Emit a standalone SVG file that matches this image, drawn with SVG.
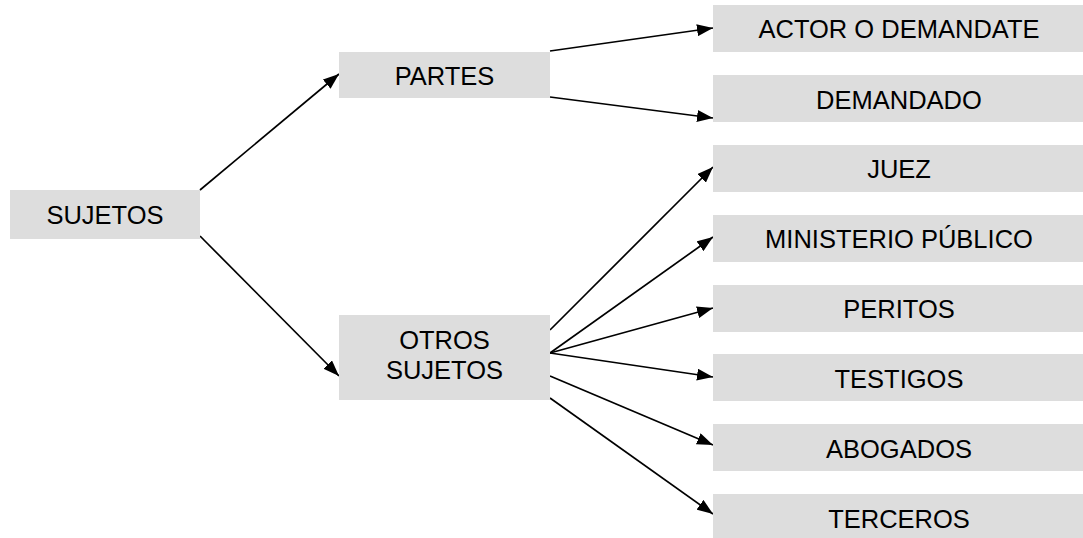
<svg xmlns="http://www.w3.org/2000/svg" width="1083" height="538" viewBox="0 0 1083 538">
  <style>
    .box { fill: #dddddd; stroke: none; }
    .lbl { font-family: "Liberation Sans", Arial, sans-serif; font-size: 25.5px; fill: #000000; text-anchor: middle; }
    .conn { stroke: #000000; stroke-width: 1.7; fill: none; marker-end: url(#arrow); }
  </style>
  <defs>
    <marker id="arrow" viewBox="0 0 16 12" refX="16" refY="6" markerWidth="16" markerHeight="12" markerUnits="userSpaceOnUse" orient="auto">
      <path d="M0,0 L16,6 L0,12 Z" fill="#000000"/>
    </marker>
  </defs>
  <rect width="1083" height="538" fill="#ffffff"/>

  <g id="connectors">
    <line class="conn" x1="200" y1="190" x2="339" y2="74"/>
    <line class="conn" x1="200" y1="236" x2="339" y2="376"/>
    <line class="conn" x1="550" y1="51" x2="713" y2="28"/>
    <line class="conn" x1="550" y1="97" x2="713" y2="118"/>
    <line class="conn" x1="550" y1="330" x2="713" y2="167"/>
    <line class="conn" x1="550" y1="353" x2="713" y2="237"/>
    <line class="conn" x1="550" y1="353" x2="713" y2="308"/>
    <line class="conn" x1="550" y1="353" x2="713" y2="377"/>
    <line class="conn" x1="550" y1="376" x2="713" y2="445"/>
    <line class="conn" x1="550" y1="398" x2="713" y2="514"/>
  </g>

  <g id="sujetos">
    <rect class="box" x="10" y="190" width="190" height="49"/>
    <text class="lbl" x="105" y="224">SUJETOS</text>
  </g>
  <g id="partes">
    <rect class="box" x="339" y="52" width="211" height="46"/>
    <text class="lbl" x="444.5" y="85">PARTES</text>
  </g>
  <g id="otros-sujetos">
    <rect class="box" x="339" y="315" width="211" height="85"/>
    <text class="lbl" x="444.5" y="349">OTROS</text>
    <text class="lbl" x="444.5" y="379">SUJETOS</text>
  </g>
  <g id="actor">
    <rect class="box" x="713" y="5" width="370" height="47"/>
    <text class="lbl" x="899" y="37.5">ACTOR O DEMANDATE</text>
  </g>
  <g id="demandado">
    <rect class="box" x="713" y="75" width="370" height="47"/>
    <text class="lbl" x="899" y="108.5">DEMANDADO</text>
  </g>
  <g id="juez">
    <rect class="box" x="713" y="145" width="370" height="47"/>
    <text class="lbl" x="899" y="178">JUEZ</text>
  </g>
  <g id="ministerio">
    <rect class="box" x="713" y="215" width="370" height="47"/>
    <text class="lbl" x="899" y="248">MINISTERIO PÚBLICO</text>
  </g>
  <g id="peritos">
    <rect class="box" x="713" y="285" width="370" height="47"/>
    <text class="lbl" x="899" y="318">PERITOS</text>
  </g>
  <g id="testigos">
    <rect class="box" x="713" y="354" width="370" height="47"/>
    <text class="lbl" x="899" y="387.5">TESTIGOS</text>
  </g>
  <g id="abogados">
    <rect class="box" x="713" y="424" width="370" height="47"/>
    <text class="lbl" x="899" y="457.5">ABOGADOS</text>
  </g>
  <g id="terceros">
    <rect class="box" x="713" y="494" width="370" height="44"/>
    <text class="lbl" x="899" y="527.5">TERCEROS</text>
  </g>
</svg>
